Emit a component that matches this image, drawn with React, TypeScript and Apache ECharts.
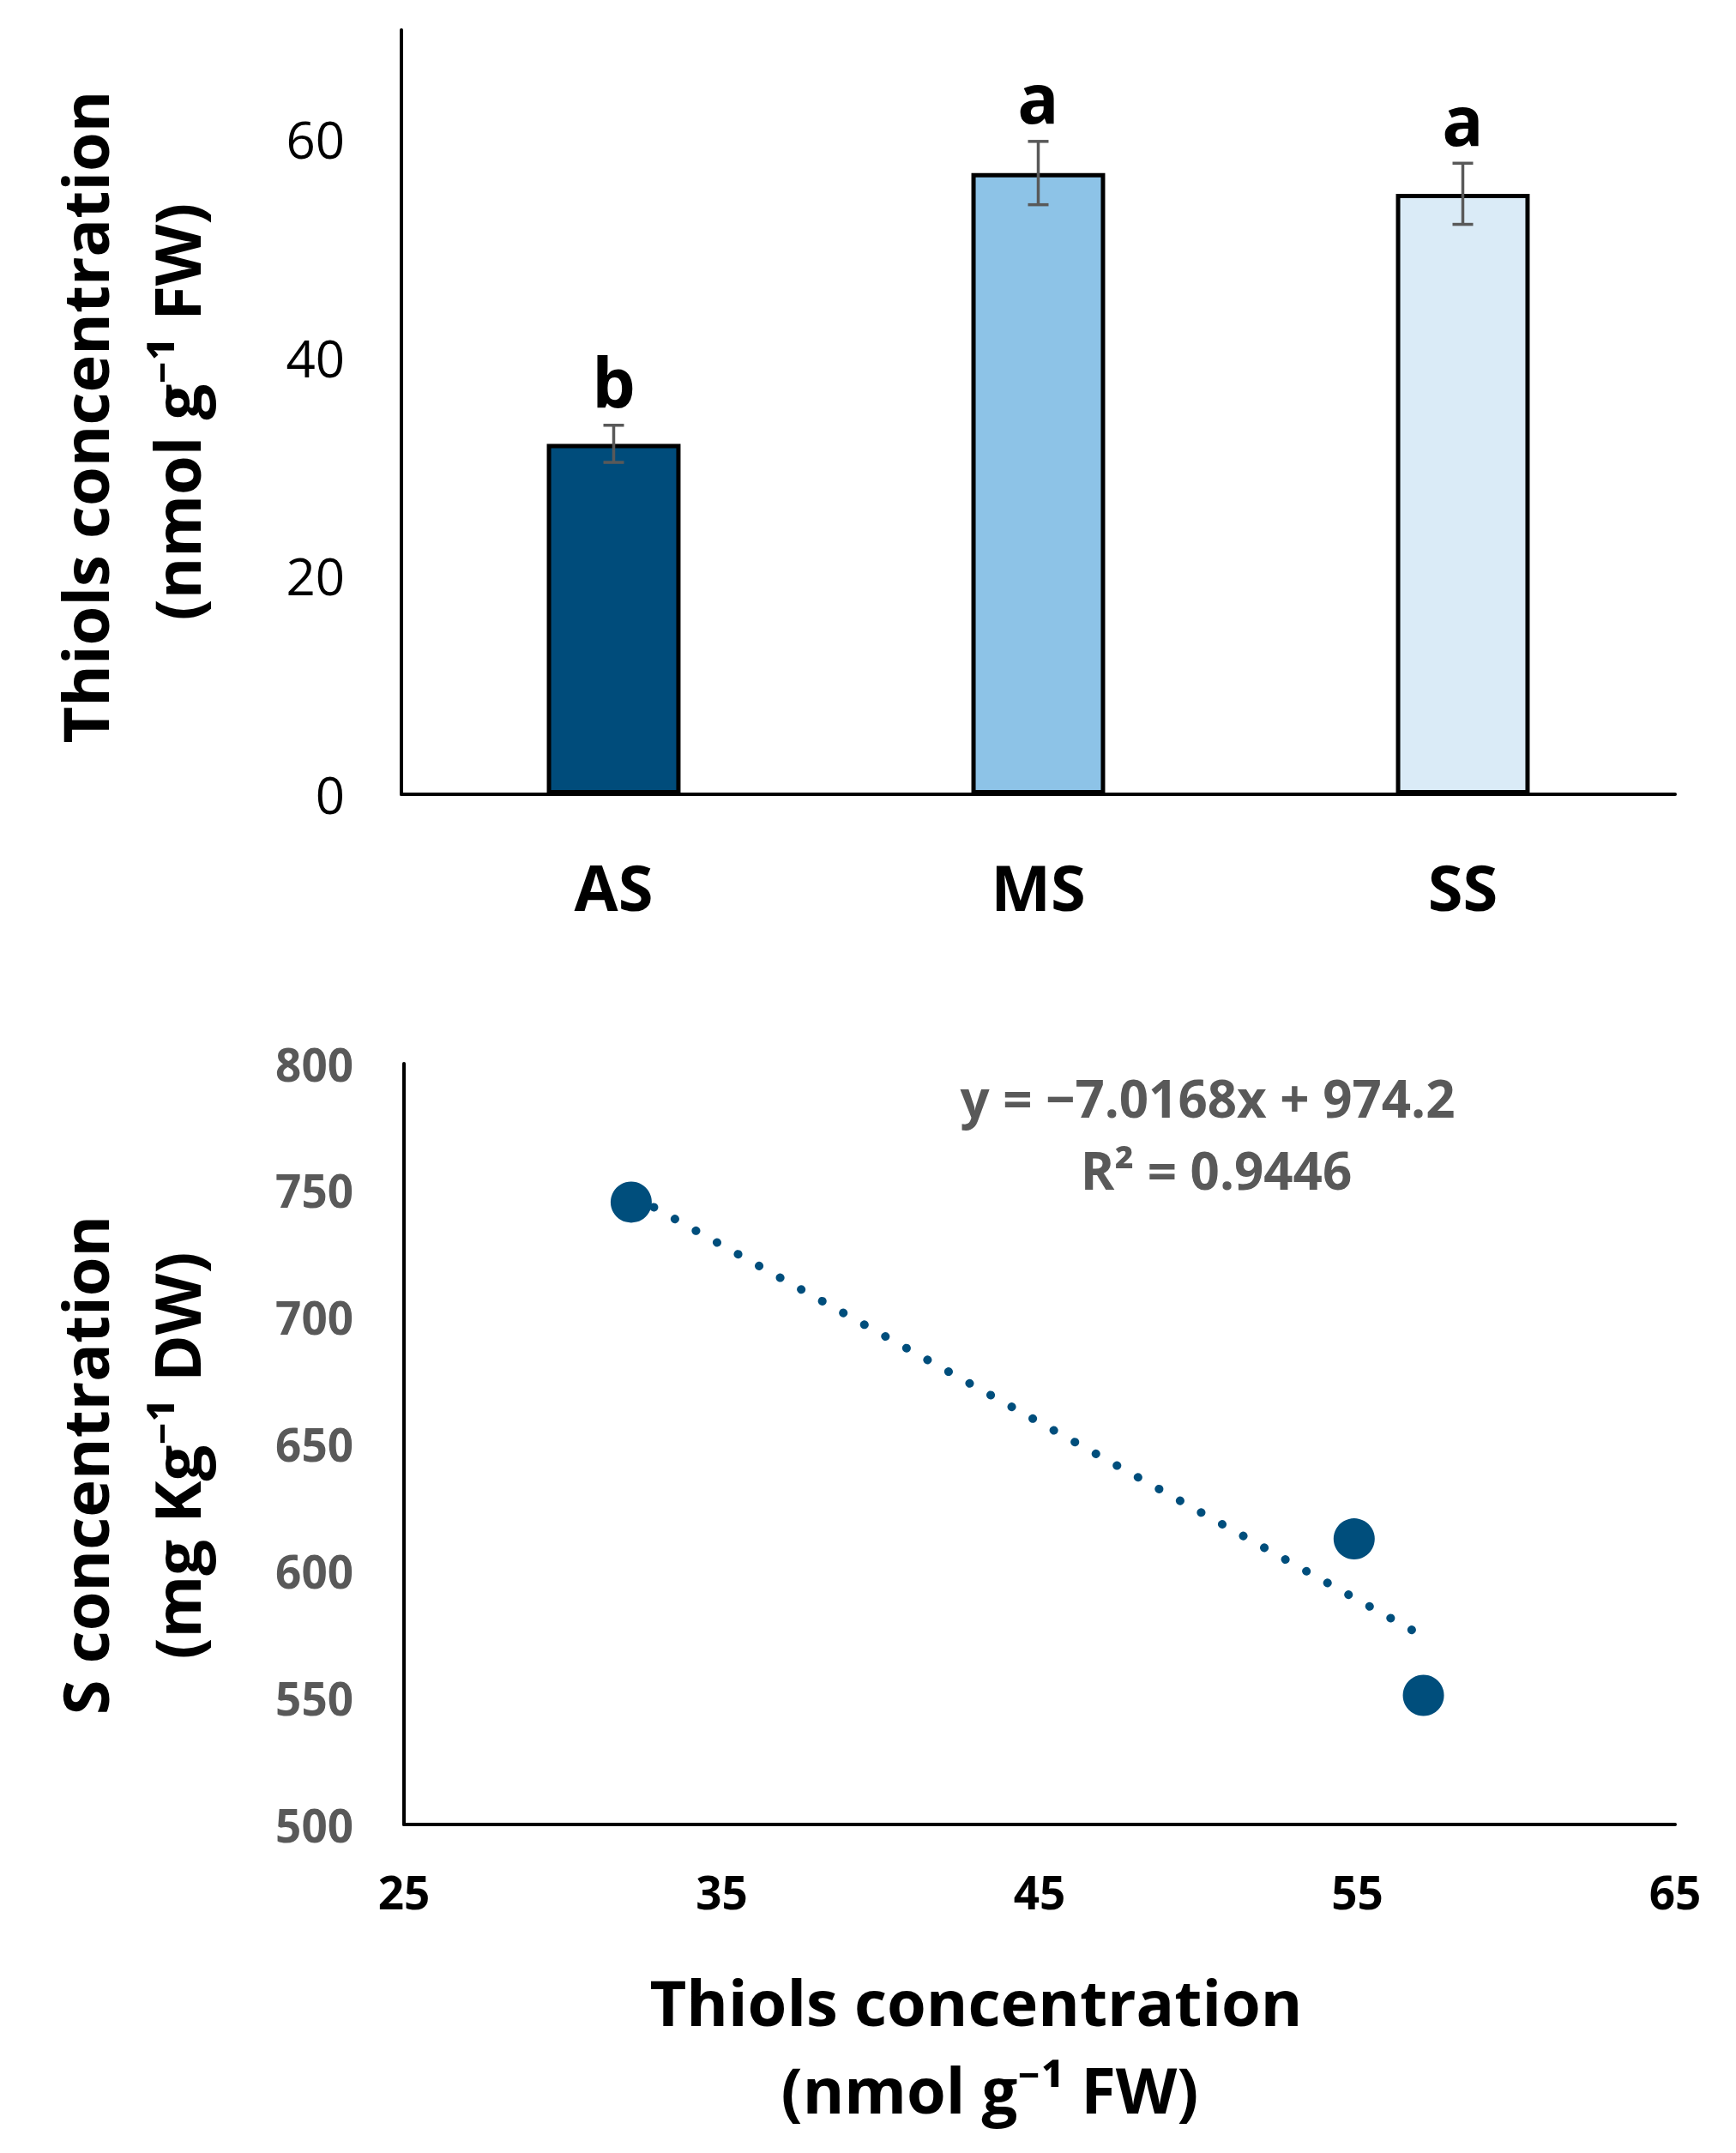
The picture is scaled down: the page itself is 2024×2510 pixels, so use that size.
import React, { useEffect, useRef } from "react";
import * as echarts from "echarts";

// top panel: thiols by group
const categories = ["AS", "MS", "SS"];
const thiolMeans = [32.1, 56.9, 55.0];
const thiolErrors = [1.7, 2.9, 2.8];
const letters = ["b", "a", "a"];
const barColors = ["#004C7B", "#8DC3E7", "#DAEBF7"];
const topTicks = { min: 0, max: 70, interval: 20 };

// bottom panel: S vs thiols
const thiolsX = [32.15, 54.9, 57.08];
const sulfurY = [745.4, 612.6, 550.9];
const trendX = [32.2, 57.1];
const trendY = [748, 574];
const bottomXTicks = { min: 25, max: 65, interval: 10 };
const bottomYTicks = { min: 500, max: 800, interval: 50 };
const equationLines = ["y = −7.0168x + 974.2", "R² = 0.9446"];

const FONT = "'Open Sans', 'Noto Sans', sans-serif";
const DARK = "#004E7C";
const GREY = "#595959";

const App = () => {
  const chartRef = useRef<HTMLDivElement>(null);

  useEffect(() => {
    document.body.style.margin = "0";
    document.body.style.overflow = "hidden";
    const chart = echarts.init(chartRef.current as HTMLDivElement, null, {
      renderer: "svg",
    });

    const titleStyle = {
      fontFamily: FONT,
      fontWeight: "bold",
      fontSize: 74,
      fill: "#000",
      textAlign: "center",
      textVerticalAlign: "middle",
    };

    const option = {
      animation: false,
      backgroundColor: "#fff",
      grid: [
        { left: 468, top: 35, width: 1485, height: 891 },
        { left: 471, top: 1240, width: 1482, height: 887 },
      ],
      xAxis: [
        {
          type: "category",
          gridIndex: 0,
          data: categories,
          axisLine: { lineStyle: { color: "#000", width: 4 } },
          axisTick: { show: false },
          axisLabel: {
            margin: 70,
            fontFamily: FONT,
            fontWeight: "bold",
            fontSize: 74,
            color: "#000",
          },
        },
        {
          type: "value",
          gridIndex: 1,
          ...bottomXTicks,
          axisLine: { show: true, onZero: false, lineStyle: { color: "#000", width: 4 } },
          axisTick: { show: false },
          splitLine: { show: false },
          axisLabel: {
            margin: 52,
            fontFamily: FONT,
            fontWeight: "bold",
            fontSize: 53,
            color: "#000",
          },
        },
      ],
      yAxis: [
        {
          type: "value",
          gridIndex: 0,
          ...topTicks,
          axisLine: { show: true, lineStyle: { color: "#000", width: 4 } },
          axisTick: { show: false },
          splitLine: { show: false },
          axisLabel: {
            margin: 66,
            showMaxLabel: false,
            fontFamily: FONT,
            fontSize: 60,
            color: "#000",
          },
        },
        {
          type: "value",
          gridIndex: 1,
          ...bottomYTicks,
          axisLine: { show: true, onZero: false, lineStyle: { color: "#000", width: 4 } },
          axisTick: { show: false },
          splitLine: { show: false },
          axisLabel: {
            margin: 59,
            fontFamily: FONT,
            fontWeight: "bold",
            fontSize: 53,
            color: GREY,
          },
        },
      ],
      series: [
        {
          type: "bar",
          xAxisIndex: 0,
          yAxisIndex: 0,
          barWidth: "31.5%",
          data: thiolMeans.map((v, i) => ({
            value: v,
            itemStyle: { color: barColors[i], borderColor: "#000", borderWidth: 5 },
          })),
        },
        {
          type: "custom",
          xAxisIndex: 0,
          yAxisIndex: 0,
          z: 5,
          data: thiolMeans.map((v, i) => [i, v, thiolErrors[i]]),
          renderItem: (params: any, api: any) => {
            const i = api.value(0);
            const mean = api.value(1);
            const err = api.value(2);
            const hi = api.coord([i, mean + err]);
            const lo = api.coord([i, mean - err]);
            const cap = 12;
            const line = { stroke: GREY, lineWidth: 3.5 };
            return {
              type: "group",
              children: [
                { type: "line", shape: { x1: hi[0], y1: hi[1], x2: lo[0], y2: lo[1] }, style: line },
                { type: "line", shape: { x1: hi[0] - cap, y1: hi[1], x2: hi[0] + cap, y2: hi[1] }, style: line },
                { type: "line", shape: { x1: lo[0] - cap, y1: lo[1], x2: lo[0] + cap, y2: lo[1] }, style: line },
                {
                  type: "text",
                  style: {
                    text: letters[params.dataIndex],
                    x: hi[0],
                    y: hi[1] - 12,
                    textAlign: "center",
                    textVerticalAlign: "bottom",
                    fontFamily: FONT,
                    fontWeight: "bold",
                    fontSize: 80,
                    fill: "#000",
                  },
                },
              ],
            };
          },
        },
        {
          type: "line",
          xAxisIndex: 1,
          yAxisIndex: 1,
          showSymbol: false,
          data: trendX.map((x, i) => [x, trendY[i]]),
          lineStyle: { color: DARK, width: 10, type: [0.1, 28], cap: "round" },
          z: 2,
        },
        {
          type: "scatter",
          xAxisIndex: 1,
          yAxisIndex: 1,
          symbolSize: 48,
          data: thiolsX.map((x, i) => [x, sulfurY[i]]),
          itemStyle: { color: DARK, opacity: 1 },
          z: 3,
        },
      ],
      graphic: [
        { type: "text", x: 98, y: 486, rotation: Math.PI / 2, style: { ...titleStyle, text: "Thiols concentration" } },
        { type: "text", x: 205, y: 480, rotation: Math.PI / 2, style: { ...titleStyle, text: "(nmol g⁻¹ FW)" } },
        { type: "text", x: 98, y: 1708, rotation: Math.PI / 2, style: { ...titleStyle, text: "S concentration" } },
        { type: "text", x: 205, y: 1697, rotation: Math.PI / 2, style: { ...titleStyle, text: "(mg Kg⁻¹ DW)" } },
        { type: "text", x: 1138, y: 2333, style: { ...titleStyle, text: "Thiols concentration" } },
        { type: "text", x: 1154, y: 2435, style: { ...titleStyle, text: "(nmol g⁻¹ FW)" } },
        {
          type: "text",
          x: 1408,
          y: 1280,
          style: { ...titleStyle, fontSize: 60, fill: GREY, text: equationLines[0] },
        },
        {
          type: "text",
          x: 1418,
          y: 1364,
          style: { ...titleStyle, fontSize: 60, fill: GREY, text: equationLines[1] },
        },
      ],
    };

    chart.setOption(option as any);
    return () => {
      chart.dispose();
    };
  }, []);

  return <div ref={chartRef} style={{ width: "2024px", height: "2510px" }} />;
};

export default App;
